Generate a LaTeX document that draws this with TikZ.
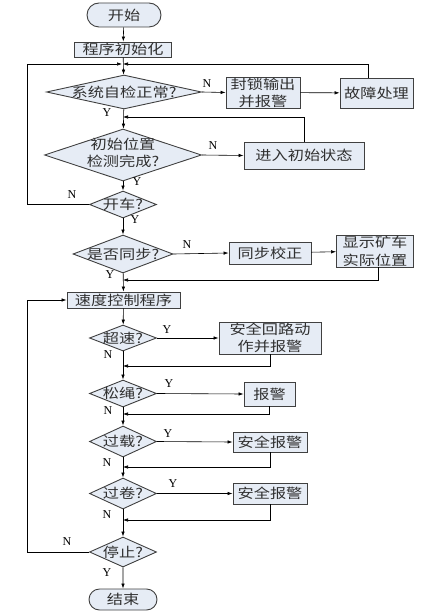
\documentclass[tikz,border=0pt]{standalone}
\usepackage{fontspec}
\setmainfont{Liberation Serif}
\newfontfamily\cjk[FakeStretch=1.2]{Noto Sans CJK SC}
\usetikzlibrary{shapes.geometric,shapes.misc,arrows.meta}
\definecolor{boxfill}{HTML}{E6ECF5}
\definecolor{boxline}{HTML}{404040}
\definecolor{txt}{HTML}{303030}
\begin{document}
\begin{tikzpicture}[x=1pt,y=-1pt,
  base/.style={draw=boxline,fill=boxfill,line width=0.9pt,inner sep=0pt,
    font=\cjk\fontsize{13.5}{17}\selectfont,text=txt,align=center},
  proc/.style={base,rectangle},
  term/.style={base,rounded rectangle},
  dec/.style={base,diamond},
  lab/.style={font=\fontsize{12}{12}\selectfont,inner sep=0pt},
  arr/.style={-{Latex[length=5pt,width=3.5pt]},line width=0.6pt,black},
  ln/.style={line width=0.6pt,black}]
\useasboundingbox (0,0) rectangle (422,612);
% nodes
\node[term,minimum width=74pt,minimum height=24pt] (start) at (124,15) {开始};
\node[proc,minimum width=97pt,minimum height=15pt] (init) at (123,49.5) {程序初始化};
\node[dec,minimum width=155pt,minimum height=34pt] (d1) at (124,92) {\makebox[0pt]{系统自检正常?}};
\node[proc,minimum width=74pt,minimum height=31pt] (fs) at (263,92.5) {封锁输出\\并报警};
\node[proc,minimum width=73pt,minimum height=30pt] (gz) at (376.5,93) {故障处理};
\node[dec,minimum width=157pt,minimum height=52pt] (d2) at (123,155) {\makebox[0pt]{\begin{tabular}{@{}c@{}}初始位置\\检测完成?\end{tabular}}};
\node[proc,minimum width=120pt,minimum height=27pt] (jr) at (304,155.5) {进入初始状态};
\node[dec,minimum width=67pt,minimum height=27pt] (kc) at (123,204.5) {\makebox[0pt]{开车?}};
\node[dec,minimum width=100pt,minimum height=38pt] (tb) at (123,254) {\makebox[0pt]{是否同步?}};
\node[proc,minimum width=82pt,minimum height=22pt] (tz) at (270,253) {同步校正};
\node[proc,minimum width=77pt,minimum height=32pt,font=\cjk\fontsize{13.5}{18}\selectfont] (xs) at (375,251) {显示矿车\\实际位置};
\node[proc,minimum width=113pt,minimum height=16pt] (sd) at (123.5,300) {速度控制程序};
\node[dec,minimum width=67pt,minimum height=26pt] (cs) at (123,338) {\makebox[0pt]{超速?}};
\node[proc,minimum width=102pt,minimum height=32pt] (b1) at (270,338) {安全回路动\\作并报警};
\node[dec,minimum width=67pt,minimum height=27pt] (ss) at (123,393.5) {\makebox[0pt]{松绳?}};
\node[proc,minimum width=51pt,minimum height=24pt] (b2) at (269.5,394) {报警};
\node[dec,minimum width=67pt,minimum height=31pt] (gzz) at (123,441.5) {\makebox[0pt]{过载?}};
\node[proc,minimum width=74pt,minimum height=20pt] (b3) at (270,442) {安全报警};
\node[dec,minimum width=67pt,minimum height=31pt] (gj) at (123,493.5) {\makebox[0pt]{过卷?}};
\node[proc,minimum width=74pt,minimum height=21pt] (b4) at (270,493.5) {安全报警};
\node[dec,minimum width=67pt,minimum height=30pt] (tzz) at (123,552) {\makebox[0pt]{停止?}};
\node[term,minimum width=68pt,minimum height=21pt] (end) at (123,599.5) {结束};
% junctions
\coordinate (j1) at (123,64);
\coordinate (L1) at (27,64);
\coordinate (j2) at (123,117);
\coordinate (j3) at (123,280);
\coordinate (L2) at (27,300);
\coordinate (j4) at (123,366);
\coordinate (j5) at (123,414);
\coordinate (j6) at (123,467);
\coordinate (j7) at (123,520);
% main flow
\draw[arr] (start) -- (init);
\draw[arr] (init) -- (d1);
\draw[arr] (d1) -- (d2);
\draw[arr] (d2) -- (kc);
\draw[arr] (kc) -- (tb);
\draw[arr] (tb) -- (sd);
\draw[arr] (sd) -- (cs);
\draw[arr] (cs) -- (ss);
\draw[arr] (ss) -- (gzz);
\draw[arr] (gzz) -- (gj);
\draw[arr] (gj) -- (tzz);
\draw[arr] (tzz) -- (end);
% side branches
\draw[arr] (d1.east) -- (fs.west);
\draw[arr] (fs) -- (gz);
\draw[arr] ([xshift=-8pt]gz.north) |- (j1);
\draw[arr] (kc.west) -| (L1) -- ([xshift=-1pt]j1);
\draw[arr] (d2.east) -- (jr.west);
\draw[arr] (jr.north) |- (j2);
\draw[arr] (tb.east) -- (tz.west);
\draw[arr] (tz) -- (xs);
\draw[arr] ([xshift=3pt]xs.south) |- (j3);
\draw[arr] (tzz.west) -| (L2) -- (sd.west);
\draw[arr] (cs.east) -- (b1.west);
\draw[arr] (b1.south) |- (j4);
\draw[arr] (ss.east) -- (b2.west);
\draw[arr] (b2.south) |- (j5);
\draw[arr] (gzz.east) -- (b3.west);
\draw[arr] (b3.south) |- (j6);
\draw[arr] (gj.east) -- (b4.west);
\draw[arr] (b4.south) |- (j7);
% labels
\node[lab] (n1) at (207,84) {N};
\node[lab] (y1) at (107,113) {Y};
\node[lab] (n2) at (213,146) {N};
\node[lab] (y2) at (137,182) {Y};
\node[lab] (n3) at (72,195) {N};
\node[lab] (y3) at (135,220) {Y};
\node[lab] (n4) at (187,245) {N};
\node[lab] (y4) at (110,275) {Y};
\node[lab] (y5) at (167,330) {Y};
\node[lab] (n5) at (108,355) {N};
\node[lab] (y6) at (169,384) {Y};
\node[lab] (n6) at (108,411) {N};
\node[lab] (y7) at (168,434) {Y};
\node[lab] (n7) at (107,463) {N};
\node[lab] (y8) at (173,484) {Y};
\node[lab] (n8) at (107,515) {N};
\node[lab] (n9) at (67,542) {N};
\node[lab] (y9) at (107,573) {Y};
\end{tikzpicture}
\end{document}
